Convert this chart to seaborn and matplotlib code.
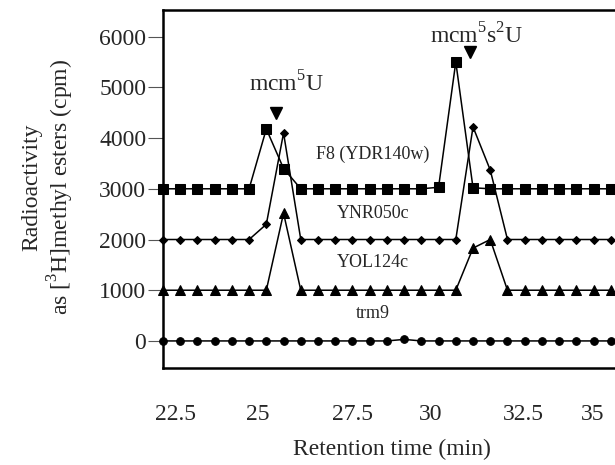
import numpy as np
import pandas as pd
import seaborn as sns
import matplotlib.pyplot as plt

# retention time (min), one fraction every 0.5 min
time_min = [22.0, 22.5, 23.0, 23.5, 24.0, 24.5, 25.0, 25.5, 26.0, 26.5,
            27.0, 27.5, 28.0, 28.5, 29.0, 29.5, 30.0, 30.5, 31.0, 31.5,
            32.0, 32.5, 33.0, 33.5, 34.0, 34.5, 35.0]

# curves are offset by 1000 cpm each
f8_cpm = [3000, 3000, 3000, 3000, 3000, 3000, 4180, 3400, 3000, 3000,
          3000, 3000, 3000, 3000, 3000, 3000, 3030, 5500, 3020, 3000,
          3000, 3000, 3000, 3000, 3000, 3000, 3000]
ynr050c_cpm = [2000, 2000, 2000, 2000, 2000, 2000, 2300, 4100, 2000, 2000,
               2000, 2000, 2000, 2000, 2000, 2000, 2000, 2000, 4220, 3370,
               2000, 2000, 2000, 2000, 2000, 2000, 2000]
yol124c_cpm = [1000, 1000, 1000, 1000, 1000, 1000, 1000, 2520, 1000, 1000,
               1000, 1000, 1000, 1000, 1000, 1000, 1000, 1000, 1830, 2000,
               1000, 1000, 1000, 1000, 1000, 1000, 1000]
trm9_cpm = [0, 0, 0, 0, 0, 0, 0, 0, 0, 0,
            0, 0, 0, 0, 30, 0, 0, 0, 0, 0,
            0, 0, 0, 0, 0, 0, 0]

series = {
    "F8 (YDR140w)": (f8_cpm, "s", 6.5),
    "YNR050c": (ynr050c_cpm, "D", 4.5),
    "YOL124c": (yol124c_cpm, "^", 6.5),
    "trm9": (trm9_cpm, "o", 5.5),
}
label_pos = {
    "F8 (YDR140w)": (28.1, 3670),
    "YNR050c": (28.1, 2520),
    "YOL124c": (28.1, 1540),
    "trm9": (28.1, 550),
}
peaks = [("mcm$^5$U", 25.28, 4500, 25.6, 5060),
         ("mcm$^5$s$^2$U", 30.9, 5690, 31.1, 6010)]

# the scanned figure's axis labels sit a little off the nominal values
x_tick_labels = ["22.5", "25", "27.5", "30", "32.5", "35"]
x_tick_pos = [22.35, 24.76, 27.49, 29.78, 32.46, 34.47]
y_ticks = [0, 1000, 2000, 3000, 4000, 5000, 6000]

sns.set_style("white")
plt.rcParams["font.family"] = ["Liberation Serif", "DejaVu Serif"]
plt.rcParams["mathtext.fontset"] = "custom"
plt.rcParams["mathtext.rm"] = "Liberation Serif"

fig = plt.figure(figsize=(6.15, 4.65), dpi=100)
ax = fig.add_axes([0.265, 0.209, 0.745, 0.770])

for name, (vals, mk, ms) in series.items():
    df = pd.DataFrame({"time": time_min, "cpm": vals})
    sns.lineplot(data=df, x="time", y="cpm", ax=ax, color="black",
                 linewidth=1.1, marker=mk, markersize=ms,
                 markeredgecolor="black", markerfacecolor="black",
                 clip_on=False, zorder=3)
    lx, ly = label_pos[name]
    ax.text(lx, ly, name, ha="center", va="center", fontsize=13)

for text, mx, my, tx, ty in peaks:
    ax.plot([mx], [my], marker="v", color="black", markersize=8,
            linestyle="none")
    ax.text(tx, ty, text, ha="center", va="center", fontsize=17)

ax.set_xlim(22, 35.3)
ax.set_ylim(-530, 6530)
ax.set_xticks(x_tick_pos)
ax.set_xticklabels(x_tick_labels)
ax.set_yticks(y_ticks)
ax.tick_params(axis="y", direction="out", length=11, width=0.8,
               color="#555555", labelsize=17, pad=1, left=True)
ax.tick_params(axis="x", length=0, labelsize=17, pad=26)
for side in ["left", "bottom", "top"]:
    ax.spines[side].set_linewidth(1.8)
    ax.spines[side].set_color("black")
ax.spines["right"].set_visible(False)

ax.set_xlabel("Retention time (min)", fontsize=17, labelpad=10)
ax.set_ylabel("Radioactivity\nas [$^3$H]methyl esters (cpm)", fontsize=17,
              linespacing=1.15)
ax.yaxis.set_label_coords(-0.19, 0.505)

fig.savefig("out.png", dpi=100)
